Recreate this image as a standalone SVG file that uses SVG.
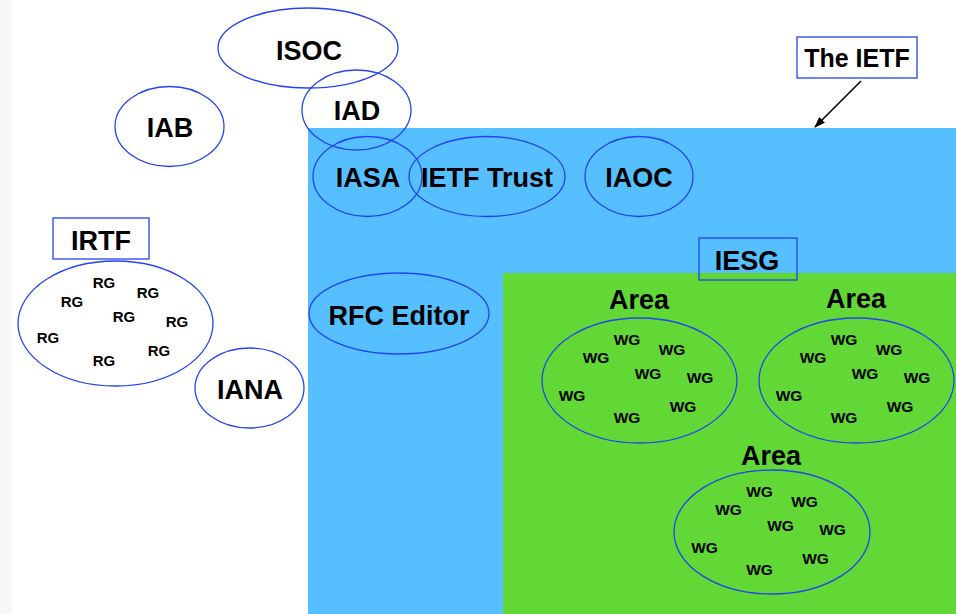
<svg xmlns="http://www.w3.org/2000/svg" width="956" height="614" viewBox="0 0 956 614">
<style>
.e{fill:none;stroke:#2543f0;stroke-width:1.3}
.b{fill:none;stroke:#2543f0;stroke-width:1.3}
.t{font-family:"Liberation Sans",Arial,sans-serif;font-weight:bold;fill:#000;text-anchor:middle}
.l{font-size:27px}
.s{font-size:15px}
.w{font-size:15.5px}
</style>
<defs>
<marker id="ah" markerWidth="11" markerHeight="8" refX="10" refY="4" orient="auto" markerUnits="userSpaceOnUse">
<path d="M0,0 L11,4 L0,8 Z" fill="#000"/>
</marker>
<g id="wgset">
<text class="t w" x="-12.5" y="-35.5">WG</text>
<text class="t w" x="32.5" y="-25.5">WG</text>
<text class="t w" x="-43.5" y="-17.5">WG</text>
<text class="t w" x="8.5" y="-1.5">WG</text>
<text class="t w" x="60.5" y="2.5">WG</text>
<text class="t w" x="-67.5" y="20.5">WG</text>
<text class="t w" x="43.5" y="31.5">WG</text>
<text class="t w" x="-12.5" y="42.5">WG</text>
</g>
</defs>
<rect x="0" y="0" width="956" height="614" fill="#fff"/>
<rect x="0" y="0" width="12" height="614" fill="#f8f8f8"/>
<g id="ietf-area"><rect x="308" y="128" width="648" height="486" fill="#56bfff"/></g>
<g id="iesg-area"><rect x="503" y="273" width="453" height="341" fill="#61d836"/></g>

<g id="isoc"><ellipse class="e" cx="308" cy="48" rx="90" ry="40"/><text class="t l" x="309" y="60">ISOC</text></g>
<g id="iad"><ellipse class="e" cx="356.5" cy="110" rx="54.5" ry="40"/><text class="t l" x="357" y="120">IAD</text></g>
<g id="iab"><ellipse class="e" cx="169.5" cy="126.5" rx="54.5" ry="40"/><text class="t l" x="170" y="137">IAB</text></g>
<g id="iasa"><ellipse class="e" cx="367.5" cy="176.5" rx="54.5" ry="40"/><text class="t l" x="368" y="187">IASA</text></g>
<g id="ietf-trust"><ellipse class="e" cx="487" cy="176.5" rx="78" ry="40"/><text class="t l" x="487" y="187">IETF Trust</text></g>
<g id="iaoc"><ellipse class="e" cx="639" cy="176.5" rx="54" ry="40"/><text class="t l" x="639" y="187">IAOC</text></g>
<g id="rfc-editor"><ellipse class="e" cx="399" cy="313.5" rx="90" ry="40.5"/><text class="t l" x="399" y="325">RFC Editor</text></g>
<g id="iana"><ellipse class="e" cx="249.5" cy="388" rx="54.5" ry="40"/><text class="t l" x="250" y="399">IANA</text></g>

<g id="irtf"><rect class="b" x="53" y="218" width="96" height="41" fill="#fff"/><text class="t l" x="101" y="250">IRTF</text></g>
<g id="rgs">
<ellipse class="e" cx="115.5" cy="323.5" rx="97.5" ry="62.5"/>
<text class="t s" x="104" y="288">RG</text>
<text class="t s" x="72" y="307">RG</text>
<text class="t s" x="148" y="298">RG</text>
<text class="t s" x="124" y="322">RG</text>
<text class="t s" x="177" y="327">RG</text>
<text class="t s" x="48" y="343">RG</text>
<text class="t s" x="159" y="356">RG</text>
<text class="t s" x="104" y="366">RG</text>
</g>

<g id="the-ietf"><rect class="b" x="797" y="37" width="120" height="41" fill="#fff"/><text class="t" style="font-size:25px" x="857" y="67">The IETF</text></g>
<g id="iesg"><rect class="b" x="699" y="238" width="98" height="42"/><text class="t l" x="747" y="270">IESG</text></g>

<g id="area1"><text class="t l" x="639" y="309">Area</text><ellipse class="e" cx="639.5" cy="380.5" rx="97.5" ry="62.5"/><use href="#wgset" x="639.5" y="380.5"/></g>
<g id="area2"><text class="t l" x="856" y="308">Area</text><ellipse class="e" cx="856.5" cy="380.5" rx="97.5" ry="62.5"/><use href="#wgset" x="856.5" y="380.5"/></g>
<g id="area3"><text class="t l" x="771" y="465">Area</text><ellipse class="e" cx="772" cy="532" rx="98" ry="62"/><use href="#wgset" x="772" y="532"/></g>

<g id="connectors">
<line x1="861" y1="81" x2="815" y2="127" stroke="#000" stroke-width="1.6" marker-end="url(#ah)"/>
</g>
</svg>
